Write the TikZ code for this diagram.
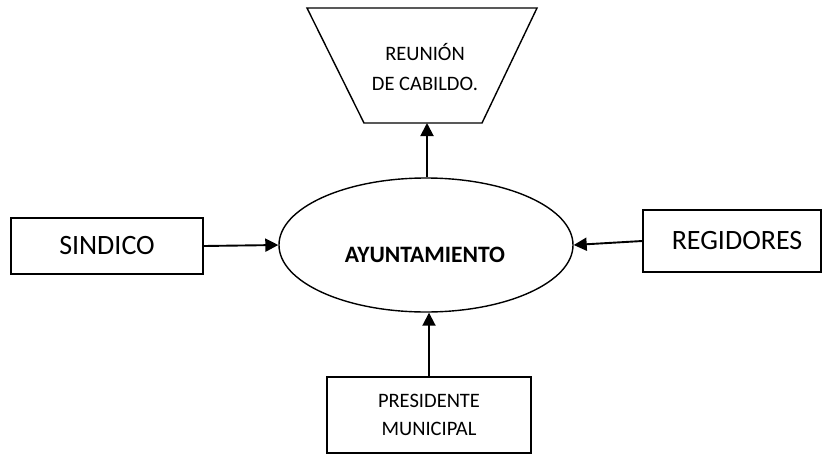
\documentclass[tikz,border=0pt]{standalone}
\usepackage{fontspec}
\setmainfont{Carlito}
\usetikzlibrary{shapes.geometric,arrows.meta}
\begin{document}
\begin{tikzpicture}[x=1pt,y=-1pt,
  box/.style={draw,line width=1.4pt,inner sep=0pt,align=center},
  conn/.style={line width=1.9pt,-{Triangle[length=13pt,width=13pt]}},
  txt/.style={align=center,inner sep=0pt}]
\useasboundingbox (0,0) rectangle (822,453);
% trapezoid
\draw[line width=1.4pt,line join=miter] (307,8) -- (537,8) -- (482,123) -- (364,123) -- cycle;
\node[txt,font=\fontsize{20.5}{30}\selectfont] (cab) at (425,67) {REUNIÓN\\DE CABILDO.};
\coordinate (cabb) at (427,123);
% ellipse
\node[draw,ellipse,line width=1.4pt,minimum width=294pt,minimum height=134pt,inner sep=0pt] (ayu) at (426,245) {};
\node[txt,font=\fontsize{23.5}{28}\bfseries] (ayut) at (425,255) {AYUNTAMIENTO};
% boxes
\node[box,minimum width=192pt,minimum height=56pt,font=\fontsize{28}{32}\selectfont] (sin) at (107,246) {SINDICO};
\node[box,minimum width=178pt,minimum height=62pt,font=\fontsize{28}{32}\selectfont] (reg) at (732,241) {\hspace*{10pt}REGIDORES};
\node[box,minimum width=204pt,minimum height=76pt,font=\fontsize{20.5}{28}\selectfont] (pres) at (429,415) {PRESIDENTE\\MUNICIPAL};
% connectors
\draw[conn] (ayu.north -| cabb) -- (cabb);
\draw[conn] (sin.east) -- (ayu.west);
\draw[conn] (reg.west) -- (ayu.east);
\draw[conn] (pres.north) -- (pres.north |- ayu.south);
\end{tikzpicture}
\end{document}
